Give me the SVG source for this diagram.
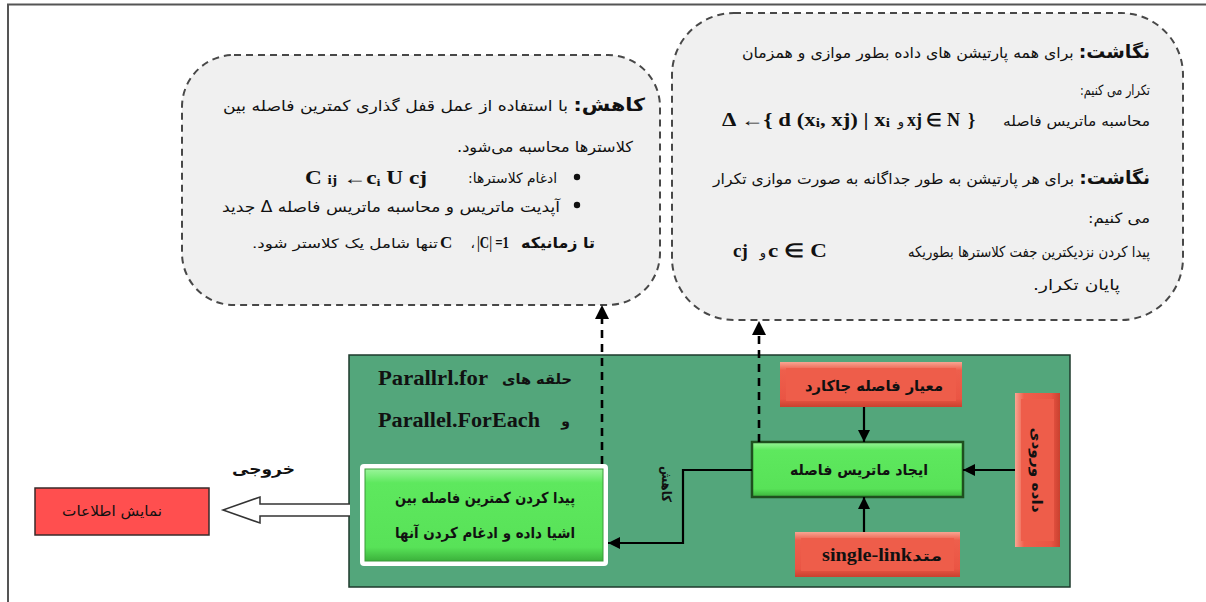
<svg xmlns="http://www.w3.org/2000/svg" width="1206" height="602" viewBox="0 0 1206 602">
<defs>
<style>
.fa{font-family:"DejaVu Sans","Noto Sans",sans-serif;direction:rtl;unicode-bidi:embed;text-anchor:start;fill:#111;}
.fab{font-family:"DejaVu Sans","Noto Sans",sans-serif;font-weight:bold;fill:#111;}
.m{font-family:"Liberation Serif",serif;font-weight:bold;fill:#111;}
.dash{fill:#f0f0f0;stroke:#484848;stroke-width:2;stroke-dasharray:7 5;}
.con{stroke:#000;stroke-width:2.2;fill:none;}
.dcon{stroke:#000;stroke-width:2.6;fill:none;stroke-dasharray:8 6;}
</style>
<linearGradient id="gRed" x1="0" y1="0" x2="0" y2="1">
<stop offset="0" stop-color="#f8a592"/><stop offset="0.18" stop-color="#ee5f4c"/><stop offset="0.82" stop-color="#ea5544"/><stop offset="1" stop-color="#c9412f"/>
</linearGradient>
<linearGradient id="gRedV" x1="0" y1="0" x2="1" y2="0">
<stop offset="0" stop-color="#f8a592"/><stop offset="0.2" stop-color="#ee5f4c"/><stop offset="0.8" stop-color="#ea5544"/><stop offset="1" stop-color="#c9412f"/>
</linearGradient>
<linearGradient id="gGreen" x1="0" y1="0" x2="0" y2="1">
<stop offset="0" stop-color="#9af59a"/><stop offset="0.15" stop-color="#5ee85e"/><stop offset="0.85" stop-color="#58e258"/><stop offset="1" stop-color="#3bb13b"/>
</linearGradient>
<marker id="ah" viewBox="0 0 10 10" refX="10" refY="5" markerWidth="12" markerHeight="12" markerUnits="userSpaceOnUse" orient="auto">
<path d="M0,0 L10,5 L0,10 z" fill="#000"/>
</marker>
</defs>
<rect x="0" y="0" width="1206" height="602" fill="#fff"/>
<path d="M8,602 L8,4.5 L1206,4.5" fill="none" stroke="#555" stroke-width="2"/>

<g id="reduce-note">
<rect class="dash" x="182" y="55" width="478" height="250" rx="52"/>
<text class="fa" x="645" y="111" font-size="15" textLength="422" lengthAdjust="spacingAndGlyphs"><tspan font-weight="bold" font-size="18">کاهش:</tspan> با استفاده از عمل قفل گذاری کمترین فاصله بین</text>
<text class="fa" x="633" y="152" font-size="15" textLength="176" lengthAdjust="spacingAndGlyphs">کلاسترها محاسبه می‌شود.</text>
<circle cx="577" cy="177" r="3.2" fill="#111"/>
<text class="fa" x="557" y="183" font-size="14" textLength="89" lengthAdjust="spacingAndGlyphs">ادغام کلاسترها:</text>
<text class="m" x="305" y="184" font-size="18" textLength="122" lengthAdjust="spacingAndGlyphs">C <tspan font-size="12">ij</tspan> ←c<tspan font-size="11" dy="2">i</tspan><tspan dy="-2"> U cj</tspan></text>
<circle cx="577" cy="205" r="3.2" fill="#111"/>
<text class="fa" x="560" y="212" font-size="15" textLength="338" lengthAdjust="spacingAndGlyphs">آپدیت ماتریس و محاسبه ماتریس فاصله Δ جدید</text>
<text class="fa" x="595" y="248" font-size="15" font-weight="bold" textLength="74" lengthAdjust="spacingAndGlyphs">تا زمانیکه</text>
<text class="m" x="477" y="248" font-size="17" textLength="32" lengthAdjust="spacingAndGlyphs">|C| =1</text>
<text class="fa" x="475" y="248" font-size="14">،</text>
<text class="m" x="440" y="248" font-size="17">C</text>
<text class="fa" x="438" y="248" font-size="13" textLength="186" lengthAdjust="spacingAndGlyphs">تنها شامل یک کلاستر شود.</text>
</g>

<g id="map-note">
<rect class="dash" x="672" y="13" width="511" height="307" rx="62"/>
<text class="fa" x="1150" y="58" font-size="15" textLength="408" lengthAdjust="spacingAndGlyphs"><tspan font-weight="bold" font-size="18">نگاشت:</tspan> برای همه پارتیشن های داده بطور موازی و همزمان</text>
<text class="fa" x="1150" y="95" font-size="14" textLength="70" lengthAdjust="spacingAndGlyphs">تکرار می کنیم:</text>
<text class="fa" x="1150" y="126" font-size="14" textLength="147" lengthAdjust="spacingAndGlyphs">محاسبه ماتریس فاصله</text>
<text class="m" x="722" y="126" font-size="18" textLength="168" lengthAdjust="spacingAndGlyphs">Δ ←{ d (x<tspan font-size="12" dy="1">i</tspan><tspan dy="-1">, xj) | x</tspan><tspan font-size="12" dy="1">i</tspan></text>
<text class="fa" x="904" y="126" font-size="13">و</text>
<text class="m" x="907" y="126" font-size="18" textLength="53" lengthAdjust="spacingAndGlyphs">xj ∈ N</text>
<text class="m" x="968" y="126" font-size="18">}</text>
<text class="fa" x="1150" y="184" font-size="15" textLength="437" lengthAdjust="spacingAndGlyphs"><tspan font-weight="bold" font-size="18">نگاشت:</tspan> برای هر پارتیشن به طور جداگانه به صورت موازی تکرار</text>
<text class="fa" x="1150" y="223" font-size="14" textLength="62" lengthAdjust="spacingAndGlyphs">می کنیم:</text>
<text class="fa" x="1150" y="257" font-size="15" textLength="242" lengthAdjust="spacingAndGlyphs">پیدا کردن نزدیکترین جفت کلاسترها بطوریکه</text>
<text class="m" x="733" y="257" font-size="19">cj</text>
<text class="fa" x="766" y="257" font-size="13">و</text>
<text class="m" x="768" y="257" font-size="19" textLength="59" lengthAdjust="spacingAndGlyphs">c ∈ C</text>
<text class="fa" x="1120" y="290" font-size="15" textLength="87" lengthAdjust="spacingAndGlyphs">پایان تکرار.</text>
</g>

<g id="parallel-frame">
<rect x="349" y="355" width="721" height="232" fill="#53a67b" stroke="#1e3a2c" stroke-width="1.5"/>
<text class="m" x="378" y="385" font-size="20" textLength="110" lengthAdjust="spacingAndGlyphs">Parallrl.for</text>
<text class="fa" x="572" y="384" font-size="14" font-weight="bold" textLength="70" lengthAdjust="spacingAndGlyphs">حلقه های</text>
<text class="m" x="378" y="427" font-size="20" textLength="162" lengthAdjust="spacingAndGlyphs">Parallel.ForEach</text>
<text class="fa" x="570" y="426" font-size="14" font-weight="bold">و</text>
</g>

<g id="find-merge">
<rect x="360" y="464" width="248" height="102" rx="4" fill="#fff"/>
<rect x="365" y="469" width="238" height="92" fill="url(#gGreen)" stroke="#3a9a3a" stroke-width="1"/>
<text class="fa" x="575" y="503" font-size="15" font-weight="bold" textLength="180" lengthAdjust="spacingAndGlyphs">پیدا کردن کمترین فاصله بین</text>
<text class="fa" x="575" y="538" font-size="15" font-weight="bold" textLength="180" lengthAdjust="spacingAndGlyphs">اشیا داده و ادغام کردن آنها</text>
</g>

<g id="jaccard">
<rect x="780" y="362" width="182" height="45" fill="url(#gRed)"/>
<rect x="786" y="368" width="170" height="33" fill="#ee5d4a"/>
<text class="fa" x="943" y="391" font-size="15" font-weight="bold" textLength="138" lengthAdjust="spacingAndGlyphs">معیار فاصله جاکارد</text>
</g>

<g id="distance-matrix">
<rect x="752" y="442" width="211" height="55" fill="url(#gGreen)" stroke="#1f4f1f" stroke-width="2.5"/>
<text class="fa" x="928" y="475" font-size="15" font-weight="bold" textLength="138" lengthAdjust="spacingAndGlyphs">ایجاد ماتریس فاصله</text>
</g>

<g id="single-link">
<rect x="795" y="532" width="165" height="45" fill="url(#gRed)"/>
<rect x="801" y="538" width="153" height="33" fill="#ee5d4a"/>
<text class="m" x="822" y="561" font-size="19" textLength="90" lengthAdjust="spacingAndGlyphs">single-link</text>
<text class="fa" x="942" y="561" font-size="14" font-weight="bold" textLength="30" lengthAdjust="spacingAndGlyphs">متد</text>
</g>

<g id="input-data">
<rect x="1015" y="393" width="45" height="154" fill="url(#gRedV)"/>
<rect x="1021" y="399" width="33" height="142" fill="#ee5d4a"/>
<text class="fab" transform="translate(1032,470) rotate(90)" text-anchor="middle" font-size="14" textLength="85" lengthAdjust="spacingAndGlyphs">داده ورودی</text>
</g>

<g id="output-label">
<text class="fa" x="295" y="474" font-size="15" font-weight="bold" textLength="63" lengthAdjust="spacingAndGlyphs">خروجی</text>
</g>

<g id="show-info">
<rect x="35" y="488" width="174" height="47" fill="#ff4f4f" stroke="#3a2a2a" stroke-width="1.5"/>
<text class="fa" x="162" y="516" font-size="14" textLength="100" lengthAdjust="spacingAndGlyphs">نمایش اطلاعات</text>
</g>

<g id="connectors">
<line class="dcon" x1="602" y1="464" x2="602" y2="318"/>
<path d="M602,305 L595,319 L609,319 z" fill="#000"/>
<line class="dcon" x1="759" y1="442" x2="759" y2="334"/>
<path d="M759,321 L752,335 L766,335 z" fill="#000"/>
<line class="con" x1="864" y1="407" x2="864" y2="442" marker-end="url(#ah)"/>
<line class="con" x1="864" y1="532" x2="864" y2="497" marker-end="url(#ah)"/>
<line class="con" x1="1015" y1="470" x2="963" y2="470" marker-end="url(#ah)"/>
<path class="con" d="M752,470 L683,470 L683,543 L608,543" marker-end="url(#ah)"/>
<text class="fab" transform="translate(662,484) rotate(90)" text-anchor="middle" font-size="13" textLength="36" lengthAdjust="spacingAndGlyphs">کاهش</text>
<path d="M350,504 L260,504 L260,497 L223,510 L260,523 L260,516 L350,516" fill="#fff" stroke="#333" stroke-width="1.5"/>
</g>
</svg>
